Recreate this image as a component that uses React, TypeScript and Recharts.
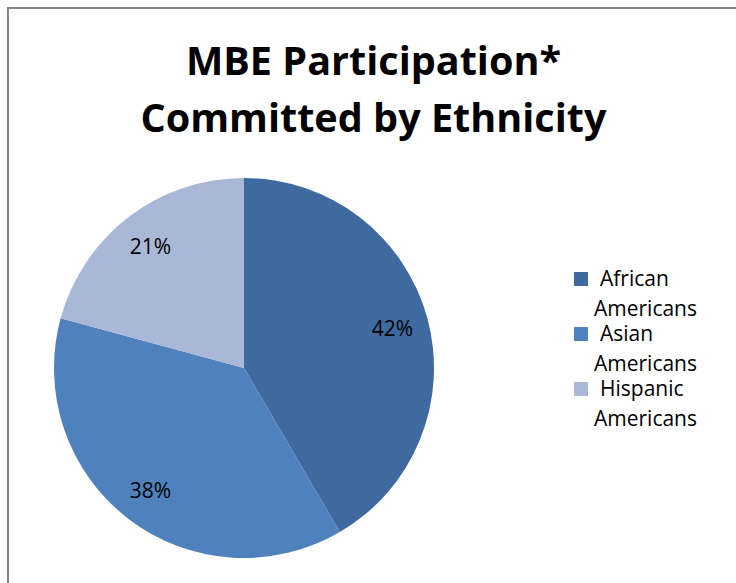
import { PieChart, Pie, Cell, Legend } from 'recharts';

const groups = ['African Americans', 'Asian Americans', 'Hispanic Americans'];
const shares = [42, 38, 21];
const sliceColors = ['#3F6A9F', '#4F81BD', '#A9B8D7'];

const titleLines = ['MBE Participation*', 'Committed by Ethnicity'];

const data = groups.map((name, i) => ({ name, value: shares[i] }));

const FONT = '"Open Sans", sans-serif';
const RAD = Math.PI / 180;

function renderLabel(props: any) {
  const { cx, cy, midAngle, outerRadius, value } = props;
  const r = outerRadius * 0.81;
  const x = cx + r * Math.cos(-midAngle * RAD);
  const y = cy + r * Math.sin(-midAngle * RAD);
  return (
    <text x={x} y={y} textAnchor="middle" dominantBaseline="central" fontSize={21} fill="#000" fontFamily={FONT}>
      {value}%
    </text>
  );
}

function renderLegend(props: any) {
  const { payload } = props;
  return (
    <div style={{ fontFamily: FONT, fontSize: 21, color: '#000' }}>
      {payload.map((entry: any) => (
        <div key={entry.value} style={{ position: 'relative', paddingLeft: 20, lineHeight: '30px', width: 122, marginBottom: -5 }}>
          <span style={{ position: 'absolute', left: 0, top: 9, width: 14, height: 14, background: entry.color }} />
          <div style={{ textIndent: 6 }}>{entry.value}</div>
        </div>
      ))}
    </div>
  );
}

export default function App() {
  return (
    <div style={{ position: 'absolute', left: 0, top: 0, width: 736, height: 583, background: '#fff', overflow: 'hidden' }}>
      <div style={{ position: 'absolute', left: 7, top: 7, width: 760, height: 600, border: '2px solid #878787' }} />
      <div style={{ position: 'absolute', left: 0, top: 32, width: 747, textAlign: 'center', fontFamily: FONT, fontWeight: 'bold', fontSize: 39.6, lineHeight: '57px', color: '#000' }}>
        {titleLines.map((t) => (
          <div key={t}>{t}</div>
        ))}
      </div>
      <div style={{ position: 'absolute', left: 0, top: 0 }}>
        <PieChart width={736} height={583} margin={{ top: 0, right: 0, bottom: 0, left: 0 }}>
          <Pie
            data={data}
            dataKey="value"
            nameKey="name"
            cx={244}
            cy={368}
            outerRadius={190}
            startAngle={90}
            endAngle={-270}
            stroke="none"
            label={renderLabel}
            labelLine={false}
            isAnimationActive={false}
          >
            {data.map((d, i) => (
              <Cell key={d.name} fill={sliceColors[i]} />
            ))}
          </Pie>
          <Legend
            layout="vertical"
            content={renderLegend}
            wrapperStyle={{ left: 574, top: 263, width: 150, bottom: 'auto', right: 'auto' }}
          />
        </PieChart>
      </div>
    </div>
  );
}
